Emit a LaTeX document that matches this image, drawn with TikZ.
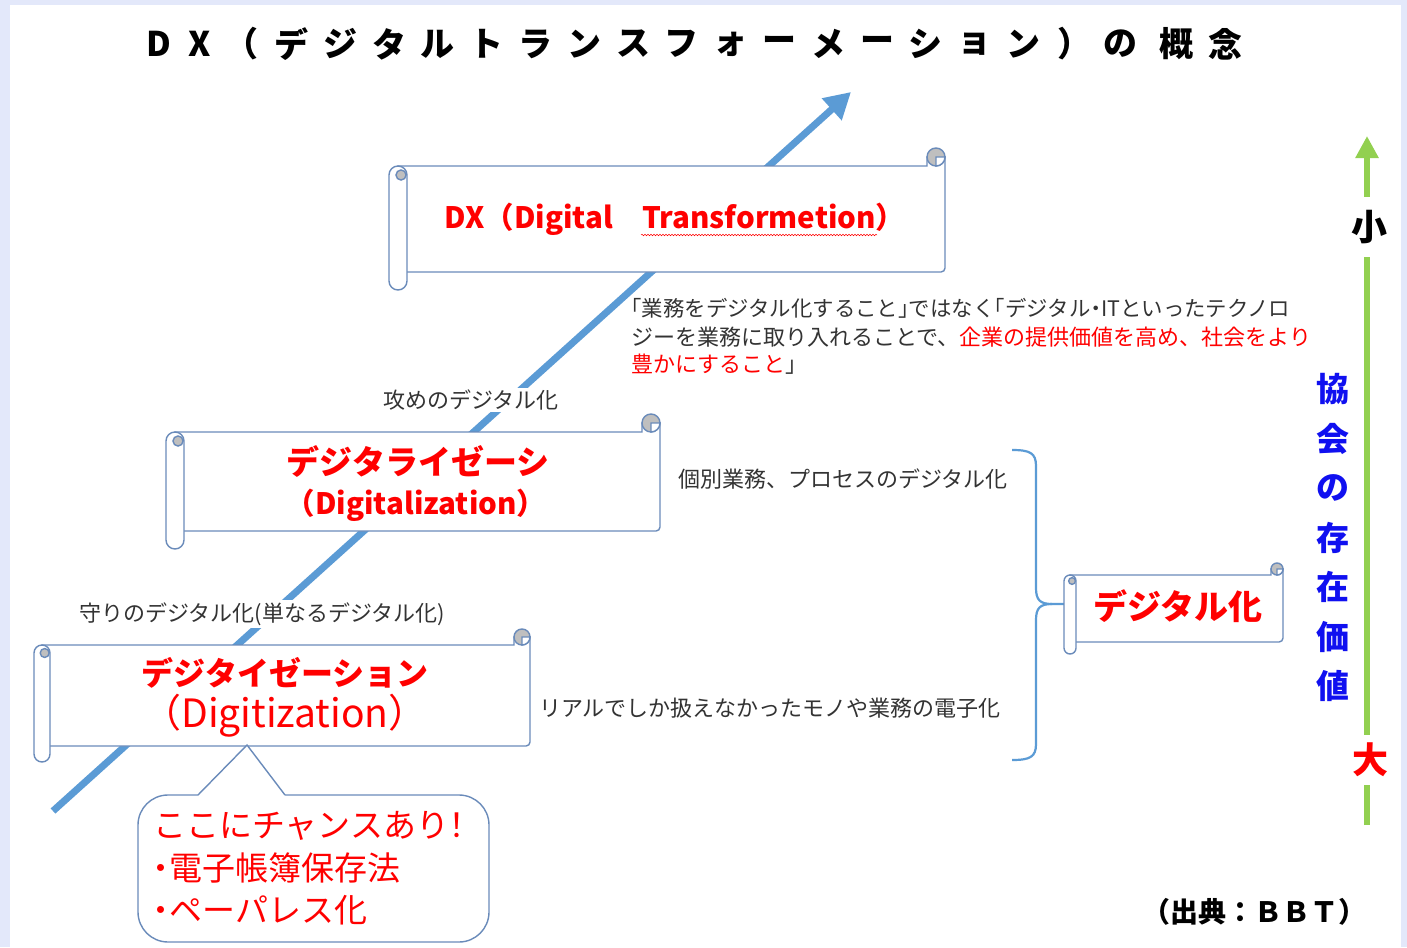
\documentclass[tikz,border=0pt]{standalone}
\usepackage{fontspec}
\setmainfont{Noto Sans CJK JP}
\usetikzlibrary{arrows.meta,decorations.pathmorphing}
\definecolor{bgl}{HTML}{E3E8FA}
\definecolor{lineblue}{HTML}{5B9BD5}
\definecolor{scrollc}{HTML}{6A8BBA}
\definecolor{curlg}{HTML}{BFBFBF}
\definecolor{grn}{HTML}{92D050}
\definecolor{txtg}{HTML}{333333}
\definecolor{jred}{HTML}{FF0000}
\definecolor{jblue}{HTML}{1010F0}
\newcommand{\fsz}[1]{\fontsize{#1}{#1}\selectfont}
\newcommand{\hw}[1]{{\addfontfeature{RawFeature=+halt}#1}}
\tikzset{
  scrollline/.style={draw=scrollc, line width=1.4pt},
  titlechar/.style={font=\fsz{34}\bfseries, inner sep=0pt, anchor=center},
  lbl/.style={font=\fsz{22}, text=txtg, fill=white, inner sep=2pt},
  para/.style={font=\fsz{22}, text=txtg, inner sep=0pt, anchor=west},
  redbold/.style={font=\fsz{#1}\bfseries, text=jred, inner sep=0pt},
  calltext/.style={font=\fsz{33}, text=jred, inner sep=0pt, anchor=west},
  bluearrow/.style={draw=lineblue, line width=7pt, -{Triangle[length=26pt,width=28pt]}},
  grnarrow/.style={draw=grn, line width=6pt, -{Triangle[length=22pt,width=22pt]}},
  bracel/.style={draw=lineblue, line width=2.2pt},
  calloutline/.style={draw=scrollc, line width=1.4pt},
}
\newcommand{\drawscroll}[5]{%
  \pgfmathsetmacro{\scXa}{#1}\pgfmathsetmacro{\scYa}{#2}%
  \pgfmathsetmacro{\scXb}{#3}\pgfmathsetmacro{\scYb}{#4}%
  \pgfmathsetmacro{\scS}{#5}\pgfmathsetmacro{\scH}{#5/2}\pgfmathsetmacro{\scR}{#5*0.28}%
  \filldraw[scrollline, fill=white] (\scXa+\scH,\scYa+\scS) -- (\scXb-\scS,\scYa+\scS) -- (\scXb-\scS,\scYa+\scH) -- (\scXb,\scYa+\scH) [rounded corners=4pt] -- (\scXb,\scYb-\scS) -- (\scXa+\scH,\scYb-\scS) [sharp corners] -- cycle;
  \filldraw[scrollline, fill=curlg] (\scXb-\scH,\scYa+\scH) circle[radius=\scH pt];
  \filldraw[scrollline, fill=white] (\scXb-\scH,\scYa+\scH) -- (\scXb-\scH,\scYa+\scS) arc[start angle=270,end angle=360,radius=\scH pt] -- cycle;
  \filldraw[scrollline, fill=white, rounded corners=\scH pt] (\scXa,\scYa+\scS) rectangle (\scXa+\scS,\scYb);
  \filldraw[scrollline, fill=curlg] (\scXa+\scH+\scR*0.6,\scYa+\scS+\scH) circle[radius=\scR pt];
}
\begin{document}
\begin{tikzpicture}[x=1pt,y=-1pt]
\useasboundingbox (0,0) rectangle (1407,947);
\fill[bgl] (0,0) rectangle (1407,947);
\fill[white] (10,5) rectangle (1401,947);

% title
\foreach \c/\px in {D/159,X/200,（/241,デ/291,ジ/340,タ/389,ル/437,ト/486,ラ/535,ン/584,ス/633,フ/681,ォ/730,ー/779,メ/828,ー/877,シ/925,ョ/974,ン/1023,）/1074,の/1120,概/1176,念/1225}
  \node[titlechar] (title\px) at (\px,44) {\c};

% main blue arrow
\coordinate (arrstart) at (53,811);
\coordinate (arrtip) at (851,92);
\draw[bluearrow] (arrstart) -- (arrtip);

% brace
\coordinate (bt) at (1012,450);
\coordinate (bb) at (1012,760);
\coordinate (bm) at (1066,604);
\draw[bracel] (bt) .. controls (1030,450) and (1036,453) .. (1036,466) -- (1036,588) .. controls (1036,600) and (1040,604) .. (1052,604) -- (bm);
\draw[bracel] (1052,604) .. controls (1040,604) and (1036,608) .. (1036,620) -- (1036,744) .. controls (1036,757) and (1030,760) .. (bb);

% DX scroll
\drawscroll{389}{148}{945}{290}{18}
\node[redbold=29.5] (dxtext) at (675,219) {DX（Digital　Transformetion）};
\draw[jred, line width=0.5pt, decorate, decoration={snake, amplitude=0.8pt, segment length=3pt}] (641,235) -- (877,235);

% Digitalization scroll
\drawscroll{166}{414}{660}{549}{18}
\node[redbold=33] (dzltexta) at (418,461) {デジタライゼーシ};
\node[redbold=29.5] (dzltextb) at (416,505) {（Digitalization）};

% Digitization scroll
\drawscroll{34}{629}{530}{762}{16}
\node[redbold=32] (dzntexta) at (285,673) {デジタイゼーション};
\node[font=\fsz{39}, text=jred, inner sep=0pt] (dzntextb) at (285,716) {（Digitization）};

% Digital-ka scroll
\drawscroll{1064}{563}{1283}{654}{12}
\node[redbold=34] (dktext) at (1178,606) {デジタル化};

% labels
\node[lbl] (laba) at (471,400) {攻めのデジタル化};
\node[lbl] (labb) at (262,614) {守りのデジタル化(単なるデジタル化)};
\node[lbl] (labc) at (843,479) {個別業務、プロセスのデジタル化};
\node[lbl] (labd) at (770,708) {リアルでしか扱えなかったモノや業務の電子化};

% paragraph
\node[para, font=\fsz{21.4}] (pa) at (631,308) {\hw{「}業務をデジタル化すること\hw{」}ではなく\hw{「}デジタル\hw{・}ITといったテクノロ};
\node[para] (pb) at (631,337) {ジーを業務に取り入れることで、\textcolor{jred}{企業の提供価値を高め、社会をより}};
\node[para] (pc) at (631,364) {\textcolor{jred}{豊かにすること}\hw{」}};

% callout
\node[calloutline, fill=white, rounded corners=30pt, minimum width=351pt, minimum height=147pt, inner sep=0pt] (callout) at (313.5,868.5) {};
\coordinate (ptip) at (247,745);
\fill[white] (197,797) -- (ptip) -- (286,797) -- cycle;
\draw[calloutline] (198,795) -- (ptip) -- (285,795);
\node[calltext] (cla) at (153,826) {ここにチャンスあり\hw{！}};
\node[calltext] (clb) at (153,868) {\hw{・}電子帳簿保存法};
\node[calltext] (clc) at (153,910) {\hw{・}ペーパレス化};

% green arrow
\coordinate (gstart) at (1367,825);
\coordinate (gtip) at (1367,136);
\draw[grnarrow] (gstart) -- (gtip);
\node[font=\fsz{36}\bfseries, fill=white, minimum height=60pt, minimum width=38pt, inner sep=0pt] (small) at (1369,227) {小};
\node[font=\fsz{36}\bfseries, text=jred, fill=white, minimum height=50pt, minimum width=38pt, inner sep=0pt] (large) at (1370,760) {大};

% vertical blue text
\foreach \c [count=\i from 0] in {協,会,の,存,在,価,値}
  \node[font=\fsz{33}\bfseries, text=jblue, inner sep=0pt] (v\i) at (1333,{389+49.5*\i}) {\c};

% source
\node[font=\fsz{28}\bfseries, inner sep=0pt] (src) at (1254,912) {（出典：ＢＢＴ）};
\end{tikzpicture}
\end{document}
